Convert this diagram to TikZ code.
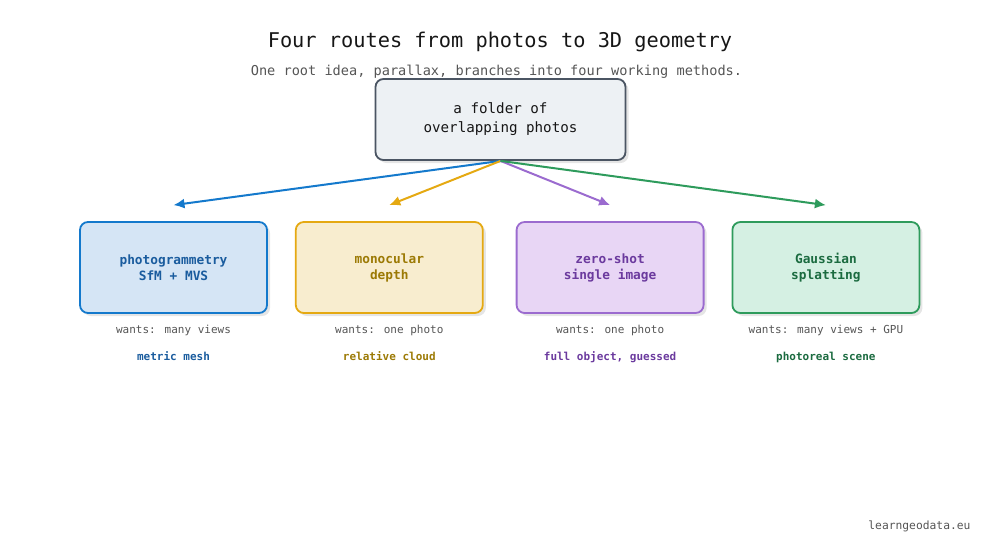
\documentclass[tikz,border=0pt]{standalone}
\usepackage{fontspec}
\setmainfont{DejaVu Sans Mono}
\usepackage{xcolor}
\usetikzlibrary{arrows.meta,positioning,shadows}

\definecolor{rootfill}{HTML}{EDF1F4}
\definecolor{rootline}{HTML}{4B5563}
\definecolor{inkdark}{HTML}{161616}
\definecolor{inkgray}{HTML}{555555}
\definecolor{blueline}{HTML}{1479CC}
\definecolor{bluefill}{HTML}{D5E5F5}
\definecolor{bluetext}{HTML}{1A5C9E}
\definecolor{yelline}{HTML}{E5A912}
\definecolor{yelfill}{HTML}{F8EDCF}
\definecolor{yeltext}{HTML}{9C7A05}
\definecolor{purline}{HTML}{9B6BCF}
\definecolor{purfill}{HTML}{E8D6F5}
\definecolor{purtext}{HTML}{6B3A9E}
\definecolor{grnline}{HTML}{2E9B5C}
\definecolor{grnfill}{HTML}{D5F0E3}
\definecolor{grntext}{HTML}{1B6B40}

\begin{document}
\begin{tikzpicture}[
  box/.style={draw,rounded corners=8pt,line width=1.8pt,align=center,minimum width=187pt,minimum height=91pt,
    font=\fontsize{12.8}{16}\selectfont\bfseries,drop shadow={shadow xshift=3pt,shadow yshift=-3pt,fill=black,opacity=0.10}},
  rootbox/.style={box,minimum width=250pt,minimum height=81pt,font=\fontsize{14.2}{19}\selectfont,
    fill=rootfill,draw=rootline,text=inkdark},
  want/.style={inner sep=0pt,text height=8pt,text depth=2.5pt,font=\fontsize{11}{13}\selectfont,text=inkgray},
  gain/.style={want,font=\fontsize{11}{13}\selectfont\bfseries},
  arr/.style={-{Latex[length=11pt,width=10pt]},line width=2pt},
  node distance=11pt and 27pt]
\useasboundingbox (0pt,0pt) rectangle (1000pt,-557pt);
\node[anchor=base,font=\fontsize{20.3}{24}\selectfont,text=inkdark] (title) at (500pt,-47pt) {Four routes from photos to 3D geometry};
\node[anchor=base,font=\fontsize{13.6}{16}\selectfont,text=inkgray] (subtitle) at (496.5pt,-75pt) {One root idea, parallax, branches into four working methods.};
\node[rootbox] (photos) at (500.5pt,-119.5pt) {a folder of\\overlapping photos};
\node[box,fill=bluefill,draw=blueline,text=bluetext] (photogram) at (173.5pt,-267.5pt) {photogrammetry\\SfM + MVS};
\node[box,fill=yelfill,draw=yelline,text=yeltext,right=of photogram] (monodepth) {monocular\\depth};
\node[box,fill=purfill,draw=purline,text=purtext,right=32pt of monodepth] (zeroshot) {zero-shot\\single image};
\node[box,fill=grnfill,draw=grnline,text=grntext,right=of zeroshot] (gsplat) {Gaussian\\splatting};
% what each route needs and gives
\node[want,below=11.5pt of photogram] (photogram-want) {wants: many views};
\node[gain,text=bluetext,below=15.5pt of photogram-want] (photogram-gain) {metric mesh};
\node[want,below=11.5pt of monodepth] (monodepth-want) {wants: one photo};
\node[gain,text=yeltext,below=15.5pt of monodepth-want] (monodepth-gain) {relative cloud};
\node[want,below=11.5pt of zeroshot] (zeroshot-want) {wants: one photo};
\node[gain,text=purtext,below=15.5pt of zeroshot-want] (zeroshot-gain) {full object, guessed};
\node[want,below=11.5pt of gsplat] (gsplat-want) {wants: many views + GPU};
\node[gain,text=grntext,below=15.5pt of gsplat-want] (gsplat-gain) {photoreal scene};
\node[anchor=base east,font=\fontsize{11.3}{13}\selectfont,text=inkgray] (site) at (974pt,-529pt) {learngeodata.eu};
% branches
\coordinate (photogram-in) at ([yshift=16pt]photogram.north);
\coordinate (monodepth-in) at ([yshift=16pt]monodepth.north);
\coordinate (zeroshot-in) at ([yshift=16pt]zeroshot.north);
\coordinate (gsplat-in) at ([yshift=16pt]gsplat.north);
\draw[arr,blueline] (photos.south)--(photogram-in);
\draw[arr,yelline] (photos.south)--(monodepth-in);
\draw[arr,purline] (photos.south)--(zeroshot-in);
\draw[arr,grnline] (photos.south)--(gsplat-in);
\end{tikzpicture}
\end{document}
